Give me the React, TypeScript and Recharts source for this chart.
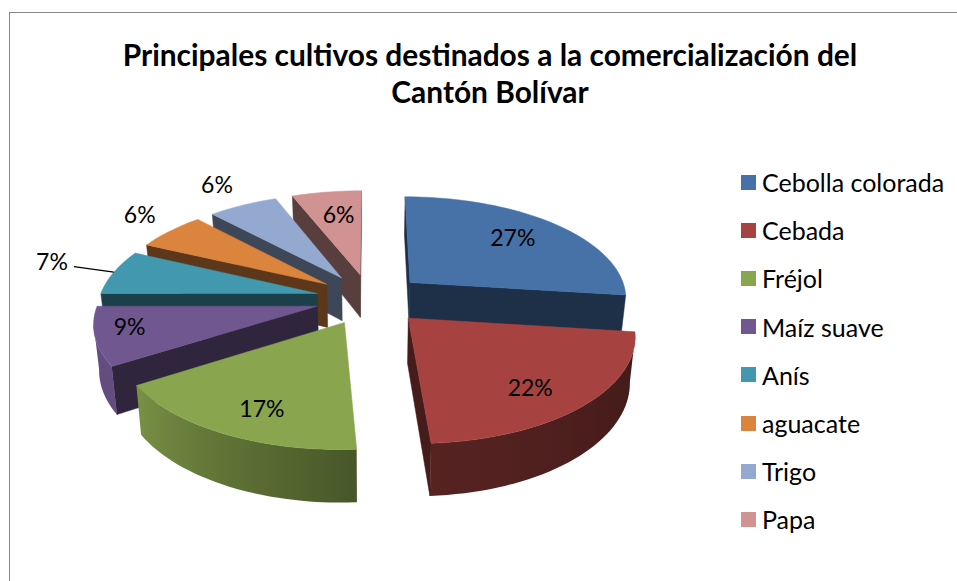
import { Legend, Pie, PieChart } from 'recharts';

const titleLines = ['Principales cultivos destinados a la comercialización del', 'Cantón Bolívar'];
const categories = ['Cebolla colorada', 'Cebada', 'Fréjol', 'Maíz suave', 'Anís', 'aguacate', 'Trigo', 'Papa'];
const shares = [27, 22, 17, 9, 7, 6, 6, 6];
const colors = ['#4672a8', '#a64340', '#89a54e', '#71578f', '#4198af', '#db843d', '#93a9cf', '#d19392'];
// how far along the slice's middle each % label sits, 1 = the rim
const labelReach = [0.7, 0.75, 0.75, 0.84, 1.27, 1.22, 1.3, 0.7];
const labelNudge = [[0, -3], [-6, 5], [5, 5], [-2, -5], [-9, -6], [1, -6], [0, -2], [3, -1]];
const leaderSlices = ['Anís'];

// slices get painted back to front, so the pie starts at Cebolla and runs the other way round
const paintOrder = [0, 7, 6, 5, 4, 3, 2, 1];
const pieData = paintOrder.map((i) => ({
  name: categories[i],
  value: shares[i],
  fill: colors[i],
  reach: labelReach[i],
  nudge: labelNudge[i],
}));

const WIDTH = 957;
const HEIGHT = 581;
const CX = 370;
const CY = 299;
const RADIUS = 218;
const FLATTEN = 0.468; // vertical squash of the tilted disk
const PERSPECTIVE = 0.14;
const EXPLODE = 0.25;
const DEPTH = 44;
const DEPTH_SHRINK = 0.98;
const FONT = 'Lato, Carlito, "Open Sans", sans-serif';

const rad = (deg: number) => (deg * Math.PI) / 180;

// disk coordinates to screen: X to the right, Y towards the viewer
const project = (cx: number, cy: number, r: number, X: number, Y: number, bottom = false) => {
  const d = 1 - PERSPECTIVE * Y;
  const x = (r * X) / d;
  const y = (r * FLATTEN * Y) / d;
  if (!bottom) return { x: cx + x, y: cy + y };
  return { x: cx + x * DEPTH_SHRINK, y: cy + y + DEPTH / d };
};

const shadeOf = (hex: string, k: number) => {
  const n = parseInt(hex.slice(1), 16);
  const c = [(n >> 16) & 255, (n >> 8) & 255, n & 255].map((v) => Math.round(v * k));
  return `rgb(${c[0]},${c[1]},${c[2]})`;
};

// rim light falls off towards the front right
const rimLight = (deg: number) => {
  const stops = [[97, 0.38], [176, 0.52], [237, 0.88], [270, 0.88]];
  if (deg <= stops[0][0]) return stops[0][1];
  for (let i = 1; i < stops.length; i++) {
    if (deg <= stops[i][0]) {
      const t = (deg - stops[i - 1][0]) / (stops[i][0] - stops[i - 1][0]);
      return stops[i - 1][1] + t * (stops[i][1] - stops[i - 1][1]);
    }
  }
  return 0.88;
};

const toPath = (pts: { x: number; y: number }[]) =>
  pts.map((p, i) => `${i ? 'L' : 'M'}${p.x.toFixed(2)},${p.y.toFixed(2)}`).join('') + 'Z';

const Slice3D = (props: any) => {
  const { cx, cy, outerRadius, startAngle, endAngle, fill, name } = props;
  // recharts angles are counter-clockwise from 3 o'clock, here clockwise from 12
  let from = 90 - Math.max(startAngle, endAngle);
  if (from < 0) from += 360;
  const to = from + Math.abs(endAngle - startAngle);
  const mid = rad((from + to) / 2);
  const ox = EXPLODE * Math.sin(mid);
  const oy = -EXPLODE * Math.cos(mid);
  const top = (X: number, Y: number) => project(cx, cy, outerRadius, X, Y);
  const low = (X: number, Y: number) => project(cx, cy, outerRadius, X, Y, true);

  const arc: { X: number; Y: number; deg: number }[] = [];
  const steps = Math.ceil((to - from) / 2);
  for (let i = 0; i <= steps; i++) {
    const deg = from + ((to - from) * i) / steps;
    arc.push({ X: ox + Math.sin(rad(deg)), Y: oy - Math.cos(rad(deg)), deg });
  }
  const tip = { X: ox, Y: oy };
  const first = arc[0];
  const last = arc[arc.length - 1];

  // the two cut faces, only when they look towards us
  const cuts = [[tip, first], [last, tip]].map(([a, b], i) => {
    const p = top(a.X, a.Y);
    const q = top(b.X, b.Y);
    if (q.x >= p.x) return null;
    const c = shadeOf(fill, 0.42);
    return <path key={i} d={toPath([p, q, low(b.X, b.Y), low(a.X, a.Y)])} fill={c} stroke={c} strokeWidth={0.5} />;
  });

  // part of the rim that looks towards us, one shape with a sideways gradient
  const seen = arc.filter((a, i) => {
    const prev = arc[i - 1];
    const next = arc[i + 1];
    const here = top(a.X, a.Y).x;
    return (next && top(next.X, next.Y).x < here) || (prev && top(prev.X, prev.Y).x > here);
  });
  const gradId = `rim-${String(name).replace(/[^a-z]/gi, '')}`;
  let rim = null;
  if (seen.length > 1) {
    const x1 = top(seen[0].X, seen[0].Y).x;
    const x2 = top(seen[seen.length - 1].X, seen[seen.length - 1].Y).x;
    rim = (
      <g>
        <defs>
          <linearGradient id={gradId} gradientUnits="userSpaceOnUse" x1={x1} y1={0} x2={x2} y2={0}>
            {seen.map((a) => (
              <stop key={a.deg} offset={(top(a.X, a.Y).x - x1) / (x2 - x1)} stopColor={shadeOf(fill, rimLight(a.deg))} />
            ))}
          </linearGradient>
        </defs>
        <path
          d={toPath([...seen.map((a) => top(a.X, a.Y)), ...[...seen].reverse().map((a) => low(a.X, a.Y))])}
          fill={`url(#${gradId})`}
        />
      </g>
    );
  }

  return (
    <g>
      {cuts}
      {rim}
      <path d={toPath([top(tip.X, tip.Y), ...arc.map((a) => top(a.X, a.Y))])} fill={fill} stroke={fill} strokeWidth={0.5} />
    </g>
  );
};

const SliceLabel = (props: any) => {
  const { cx, cy, outerRadius, midAngle, payload, value } = props;
  const mid = rad(90 - midAngle);
  const s = Math.sin(mid);
  const c = -Math.cos(mid);
  const at = (reach: number) => project(cx, cy, outerRadius, (EXPLODE + reach) * s, (EXPLODE + reach) * c);
  const p = at(payload.reach);
  const x = p.x + payload.nudge[0];
  const y = p.y + payload.nudge[1];
  const rimPoint = at(1);
  return (
    <g>
      {leaderSlices.includes(payload.name) && (
        <line x1={x + 22} y1={y + 6} x2={rimPoint.x} y2={rimPoint.y} stroke="#000" strokeWidth={1.3} />
      )}
      <text x={x} y={y} textAnchor="middle" dominantBaseline="central" fontFamily={FONT} fontSize={23} fill="#000">
        {`${value}%`}
      </text>
    </g>
  );
};

const LegendList = () => (
  <div style={{ fontFamily: FONT, fontSize: 25, color: '#000' }}>
    {categories.map((name, i) => (
      <div key={name} style={{ height: 48.2, display: 'flex', alignItems: 'center', whiteSpace: 'nowrap' }}>
        <span style={{ width: 15, height: 15, background: colors[i], marginRight: 6 }} />
        {name}
      </div>
    ))}
  </div>
);

export default function App() {
  return (
    <div style={{ position: 'absolute', left: 0, top: 0, width: WIDTH, height: HEIGHT, overflow: 'hidden', background: '#fff' }}>
      <div style={{ position: 'absolute', left: 9, top: 12, right: 0, bottom: 0, borderLeft: '1.5px solid #868686', borderTop: '1.5px solid #868686' }} />
      <div style={{ position: 'absolute', left: 0, top: 36, width: 980, textAlign: 'center', fontFamily: FONT, fontWeight: 700, fontSize: 29.9, lineHeight: '37px', color: '#000' }}>
        {titleLines.map((t) => (
          <div key={t}>{t}</div>
        ))}
      </div>
      <PieChart width={WIDTH} height={HEIGHT} margin={{ top: 0, right: 0, bottom: 0, left: 0 }} style={{ position: 'absolute', left: 0, top: 0 }}>
        <Pie
          data={pieData}
          dataKey="value"
          nameKey="name"
          cx={CX}
          cy={CY}
          outerRadius={RADIUS}
          startAngle={-7.2}
          endAngle={352.8}
          stroke="none"
          shape={Slice3D}
          label={SliceLabel}
          labelLine={false}
          isAnimationActive={false}
        />
        <Legend content={LegendList} layout="vertical" wrapperStyle={{ left: 741, top: 158, width: 216 }} />
      </PieChart>
    </div>
  );
}
